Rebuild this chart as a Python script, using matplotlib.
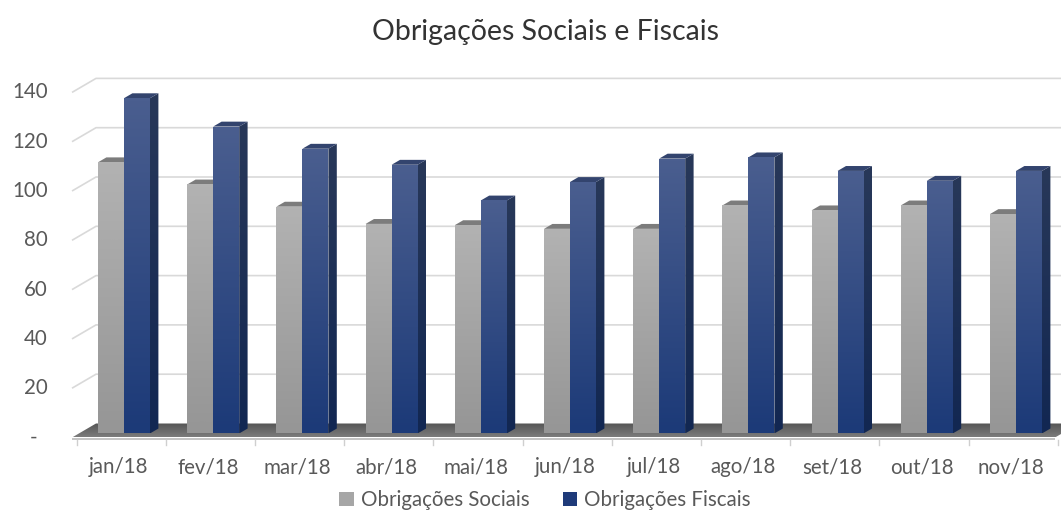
import matplotlib
matplotlib.use("Agg")
import matplotlib.pyplot as plt
import numpy as np
from matplotlib.patches import Polygon, Patch
from matplotlib.colors import LinearSegmentedColormap

plt.rcParams['font.family'] = ['Lato', 'DejaVu Sans']

months = ['jan/18', 'fev/18', 'mar/18', 'abr/18', 'mai/18', 'jun/18',
          'jul/18', 'ago/18', 'set/18', 'out/18', 'nov/18']
sociais = [110, 101, 92, 85, 84.5, 83, 83, 92.5, 90.5, 92.5, 89]
fiscais = [136, 124.5, 115.5, 109, 94.5, 102, 111.5, 112, 106.5, 102.5, 106.5]
yticks = [0, 20, 40, 60, 80, 100, 120, 140]
ytick_labels = ['-', '20', '40', '60', '80', '100', '120', '140']

# pixel scale of the fake 3d frame (category units / value units)
PX_CAT = 89.2
PX_VAL = 2.465
X0_PX = 76.5      # front edge of first category
Y0_PX = 437.5     # front zero line
W_PX, H_PX = 1061, 516

DX = 24 / PX_CAT          # depth offset of back wall
DY = 14 / PX_VAL
F1, F2 = 0.29, 0.64       # bar depth range (fraction of wall depth)
BAR_OFF = 0.163
BAR_W = 26 / PX_CAT
TXT = '#595959'
FS = 14.8

def P(c, v, f):
    return (c + f * DX, v + f * DY)

fig = plt.figure(figsize=(W_PX / 100, H_PX / 100), dpi=100)
ax = fig.add_axes([0, 0, 1, 1])
ax.axis('off')
xlim = (-X0_PX / PX_CAT, (W_PX - X0_PX) / PX_CAT)
ylim = ((Y0_PX - H_PX) / PX_VAL, Y0_PX / PX_VAL)

def face(verts, c_top, c_bot, z):
    poly = Polygon(verts, closed=True, fc='none', ec='none', zorder=z)
    ax.add_patch(poly)
    xs, ys = zip(*verts)
    cmap = LinearSegmentedColormap.from_list('g', [c_bot, c_top])
    grad = np.linspace(0, 1, 64).reshape(-1, 1)
    im = ax.imshow(grad, extent=[min(xs), max(xs), min(ys), max(ys)],
                   origin='lower', aspect='auto', cmap=cmap, zorder=z,
                   interpolation='bilinear')
    im.set_clip_path(poly)

c_left = (72 - X0_PX) / PX_CAT
c_right = len(months) - 0.03

# back wall gridlines with left wall diagonals
for v in yticks[1:]:
    ax.plot([c_left, c_left + DX, xlim[1] + 1], [v, v + DY, v + DY],
            color='#d9d9d9', lw=1.2, zorder=1, solid_capstyle='butt')

# floor
floor = [P(c_left, 0, 0), P(c_right, 0, 0), P(c_right, 0, 1), P(c_left, 0, 1)]
face(floor, '#545454', '#7d7d7d', 2)
ax.fill([c_left, c_right, c_right, c_left], [0, 0, -1.1, -1.1],
        color='#c4c4c4', lw=0, zorder=2)
for i in range(len(months) + 1):
    ax.plot([i, i], [-1.1, -3.2], color='#cfcfcf', lw=1, zorder=2)

# bars, drawn left to right so right neighbours cover side faces
z = 3
for i in range(len(months)):
    for k, (vals, cols) in enumerate([
            (sociais, ('#b2b2b2', '#969696', '#7c7c7c', '#8a8a8a', '#6f6f6f')),
            (fiscais, ('#4a5e8f', '#1c3a78', '#33446e', '#283859', '#122752'))]):
        h = vals[i]
        cl = i + BAR_OFF + k * BAR_W
        cr = cl + BAR_W
        front = [P(cl, 0, F1), P(cr, 0, F1), P(cr, h, F1), P(cl, h, F1)]
        side = [P(cr, 0, F1), P(cr, 0, F2), P(cr, h, F2), P(cr, h, F1)]
        top = [P(cl, h, F1), P(cr, h, F1), P(cr, h, F2), P(cl, h, F2)]
        face(side, cols[3], cols[4], z)
        ax.add_patch(Polygon(top, closed=True, fc=cols[2], ec='none', zorder=z))
        face(front, cols[0], cols[1], z + 0.5)
        z += 1

# y labels
for v, lab in zip(yticks, ytick_labels):
    if v == 0:
        ax.text((34 - X0_PX) / PX_CAT, v, lab, ha='center', va='center',
                fontsize=FS, color=TXT)
    else:
        ax.text((48 - X0_PX) / PX_CAT, v, lab, ha='right', va='center',
                fontsize=FS, color=TXT)

# x labels
for i, m in enumerate(months):
    ax.text(i + 0.474, (Y0_PX - 467) / PX_VAL, m, ha='center', va='center',
            fontsize=FS, color=TXT)

ax.text((545 - X0_PX) / PX_CAT, (Y0_PX - 32) / PX_VAL,
        'Obrigações Sociais e Fiscais', ha='center', va='center',
        fontsize=20.5, color='#333333')

handles = [Patch(facecolor='#a6a6a6', edgecolor='none', label='Obrigações Sociais'),
           Patch(facecolor='#1f3b7a', edgecolor='none', label='Obrigações Fiscais')]
ax.legend(handles=handles, loc='center', bbox_to_anchor=(545 / W_PX, 1 - 500 / H_PX),
          ncol=2, frameon=False, fontsize=FS, handlelength=0.7, handleheight=0.7,
          handletextpad=0.35, columnspacing=1.6, labelcolor=TXT)

ax.set_xlim(*xlim)
ax.set_ylim(*ylim)
fig.savefig('out.png', dpi=100)
